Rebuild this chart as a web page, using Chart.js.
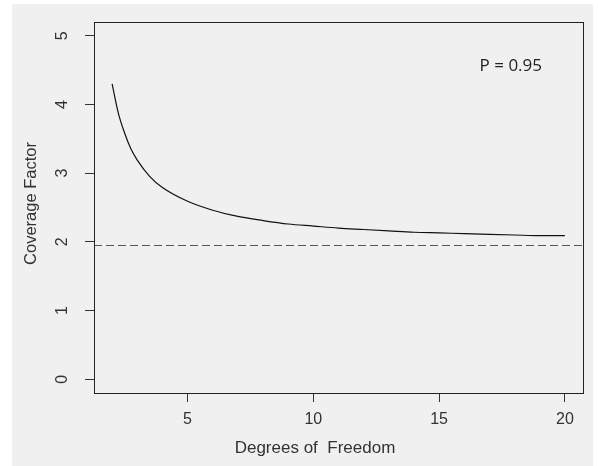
<!DOCTYPE html>
<html>
<head>
<meta charset="utf-8">
<script src="https://cdn.jsdelivr.net/npm/chart.js@4.4.0/dist/chart.umd.min.js"></script>
<style>
  html, body { margin: 0; padding: 0; background: #fff; }
</style>
</head>
<body>
<canvas id="chart" width="598" height="466"></canvas>
<script>
// Data
const degreesOfFreedom = [2, 2.25, 2.5, 2.75, 3, 3.5, 4, 5, 6, 7, 8, 9, 10, 11, 12, 13, 14, 15, 16, 17, 18, 19, 20];
const coverageFactor = [4.30, 3.87, 3.58, 3.35, 3.19, 2.95, 2.79, 2.59, 2.46, 2.37, 2.31, 2.26, 2.23, 2.20, 2.18, 2.16, 2.14, 2.13, 2.12, 2.11, 2.10, 2.09, 2.09];
const referenceLevel = 1.96;
const xTicks = [5, 10, 15, 20];
const yTicks = [0, 1, 2, 3, 4, 5];
const annotationText = 'P = 0.95';

const FONT = '"Liberation Sans", Arial, sans-serif';
const INK = '#333';

const decorations = {
    id: 'decorations',
    beforeDraw(chart) {
        const ctx = chart.ctx;
        ctx.save();
        ctx.fillStyle = '#fff';
        ctx.fillRect(0, 0, chart.width, chart.height);
        ctx.fillStyle = '#f0f0f0';
        ctx.fillRect(12, 4, 581, 462);
        ctx.restore();
    },
    afterDraw(chart) {
        const { ctx, chartArea: a, scales: { x, y } } = chart;
        ctx.save();

        // dashed reference line
        const yRef = Math.round(y.getPixelForValue(referenceLevel)) + 0.5;
        ctx.strokeStyle = '#555';
        ctx.lineWidth = 1;
        ctx.setLineDash([8, 4]);
        ctx.beginPath();
        ctx.moveTo(a.left, yRef);
        ctx.lineTo(a.right, yRef);
        ctx.stroke();
        ctx.setLineDash([]);

        // plot box
        ctx.strokeStyle = '#222';
        ctx.strokeRect(Math.round(a.left) + 0.5, Math.round(a.top) + 0.5,
            Math.round(a.right - a.left), Math.round(a.bottom - a.top));

        // y tick labels, rotated like R
        ctx.fillStyle = INK;
        ctx.font = '16px ' + FONT;
        ctx.textAlign = 'center';
        ctx.textBaseline = 'middle';
        yTicks.forEach(v => {
            ctx.save();
            ctx.translate(63, y.getPixelForValue(v));
            ctx.rotate(-Math.PI / 2);
            ctx.fillText(String(v), 0, 0);
            ctx.restore();
        });

        // axis titles
        ctx.save();
        ctx.font = '16.5px ' + FONT;
        ctx.translate(31, (a.top + a.bottom) / 2 - 4);
        ctx.rotate(-Math.PI / 2);
        ctx.fillText('Coverage Factor', 0, 0);
        ctx.restore();
        ctx.font = '17px ' + FONT;
        ctx.fillText('Degrees of  Freedom', 315, 448);

        // annotation
        ctx.fillStyle = '#222';
        ctx.font = '17px "Open Sans", ' + FONT;
        ctx.fillText(annotationText, x.getPixelForValue(17.85), y.getPixelForValue(4.56));
        ctx.restore();
    }
};

new Chart(document.getElementById('chart'), {
    type: 'line',
    data: {
        datasets: [{
            data: degreesOfFreedom.map((d, i) => ({ x: d, y: coverageFactor[i] })),
            borderColor: '#111',
            borderWidth: 1.2,
            pointRadius: 0,
            fill: false,
            cubicInterpolationMode: 'monotone'
        }]
    },
    options: {
        responsive: false,
        animation: false,
        layout: { padding: { left: 0, top: 22, right: 15, bottom: 0 } },
        plugins: { legend: { display: false }, tooltip: { enabled: false } },
        scales: {
            x: {
                type: 'linear',
                min: 1.28,
                max: 20.72,
                afterBuildTicks: s => { s.ticks = xTicks.map(v => ({ value: v })); },
                afterFit: s => { s.height = 73; },
                border: { display: false },
                grid: { drawOnChartArea: false, drawTicks: true, tickLength: 9, color: INK },
                ticks: { color: INK, font: { size: 16, family: FONT }, padding: 8, maxRotation: 0 }
            },
            y: {
                min: -0.2,
                max: 5.2,
                afterBuildTicks: s => { s.ticks = yTicks.map(v => ({ value: v })); },
                afterFit: s => { s.width = 94; },
                border: { display: false },
                grid: { drawOnChartArea: false, drawTicks: true, tickLength: 9, color: INK },
                ticks: { display: false }
            }
        }
    },
    plugins: [decorations]
});
</script>
</body>
</html>
